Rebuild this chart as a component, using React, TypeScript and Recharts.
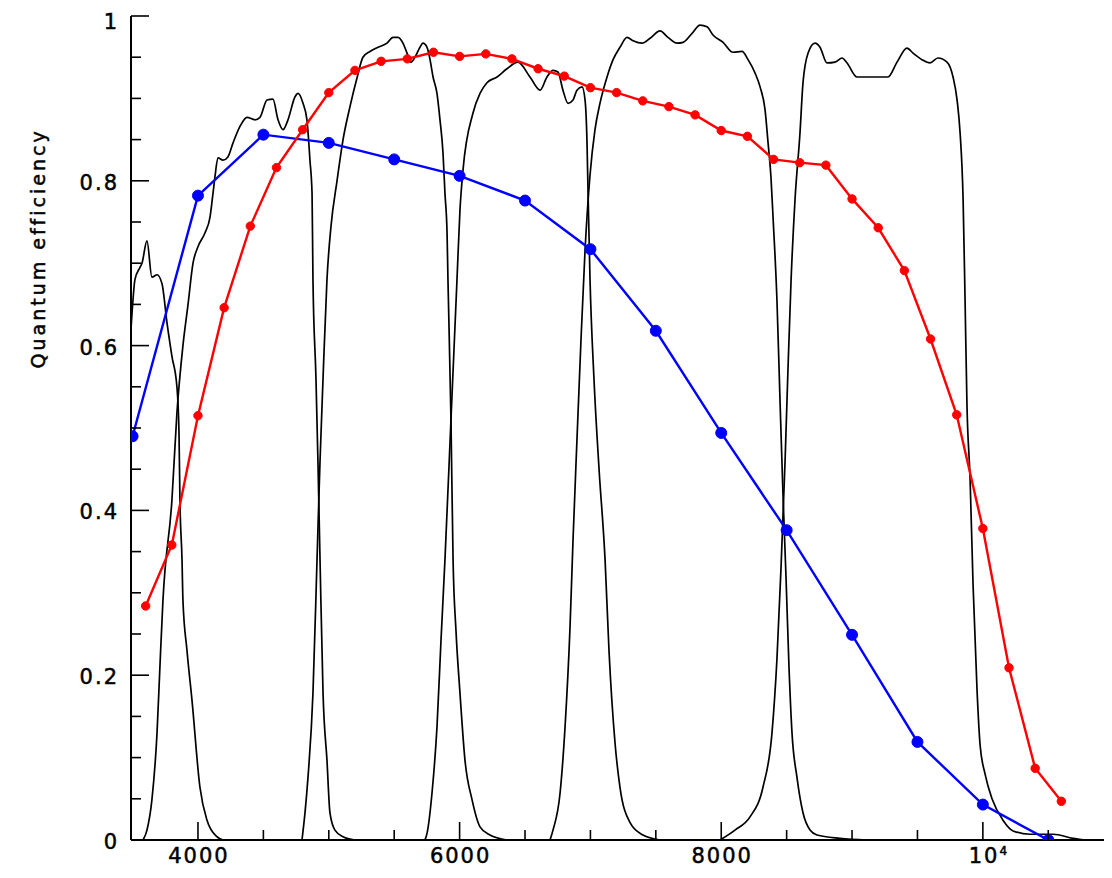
import { LineChart, Line, XAxis, YAxis } from "recharts";

// CCD quantum efficiency curves
const blueWave = [3500, 4000, 4500, 5000, 5500, 6000, 6500, 7000, 7500, 8000, 8500, 9000, 9500, 10000, 10500];
const blueQE = [0.49, 0.782, 0.856, 0.846, 0.826, 0.806, 0.776, 0.717, 0.618, 0.494, 0.376, 0.249, 0.119, 0.043, 0.0];

const redWave = [
  3600, 3800, 4000, 4200, 4400, 4600, 4800, 5000, 5200, 5400, 5600, 5800, 6000, 6200, 6400, 6600, 6800, 7000,
  7200, 7400, 7600, 7800, 8000, 8200, 8400, 8600, 8800, 9000, 9200, 9400, 9600, 9800, 10000, 10200, 10400, 10600,
];
const redQE = [
  0.284, 0.358, 0.515, 0.646, 0.745, 0.816, 0.862, 0.907, 0.934, 0.945, 0.948, 0.956, 0.951, 0.954, 0.948, 0.936,
  0.927, 0.913, 0.907, 0.897, 0.89, 0.88, 0.861, 0.854, 0.826, 0.822, 0.819, 0.778, 0.743, 0.691, 0.608, 0.516,
  0.378, 0.209, 0.087, 0.047,
];

// filter transmission curves: [wavelength, throughput]
const filter1: [number, number][] = [
  [3488, 0.62], [3503, 0.655], [3518, 0.68], [3557, 0.695], [3572, 0.7], [3610, 0.727], [3648, 0.683],
  [3687, 0.686], [3725, 0.675], [3763, 0.628], [3801, 0.587], [3839, 0.55], [3855, 0.494], [3862, 0.413],
  [3878, 0.34], [3885, 0.291], [3916, 0.23], [3954, 0.17], [4015, 0.064], [4069, 0.024], [4145, 0.004], [4191, 0],
];
const filter2: [number, number][] = [
  [3580, 0], [3610, 0.012], [3648, 0.049], [3687, 0.13], [3709, 0.21], [3732, 0.29], [3801, 0.413], [3839, 0.518],
  [3885, 0.6], [3924, 0.65], [3962, 0.7], [4000, 0.72], [4054, 0.737], [4092, 0.756], [4115, 0.785], [4130, 0.805],
  [4153, 0.828], [4191, 0.825], [4229, 0.829], [4268, 0.846], [4321, 0.866], [4375, 0.877], [4436, 0.874],
  [4474, 0.877], [4528, 0.898], [4573, 0.899], [4612, 0.874], [4650, 0.862], [4688, 0.874], [4742, 0.902],
  [4765, 0.906], [4803, 0.894], [4833, 0.874], [4856, 0.825], [4872, 0.785], [4879, 0.68], [4902, 0.56],
  [4917, 0.46], [4933, 0.34], [4956, 0.178], [4986, 0.097], [5009, 0.033], [5047, 0.012], [5109, 0.004], [5200, 0],
];
const filter3: [number, number][] = [
  [4795, 0], [4818, 0.033], [4841, 0.076], [4879, 0.178], [4910, 0.34], [4933, 0.46], [4956, 0.56], [4986, 0.68],
  [5017, 0.745], [5063, 0.8], [5109, 0.85], [5162, 0.89], [5216, 0.925], [5261, 0.95], [5315, 0.957], [5376, 0.962],
  [5445, 0.967], [5491, 0.974], [5529, 0.974], [5567, 0.967], [5598, 0.955], [5628, 0.944], [5659, 0.95],
  [5697, 0.962], [5720, 0.967], [5751, 0.962], [5774, 0.947], [5797, 0.926], [5827, 0.906], [5850, 0.874],
  [5873, 0.834], [5888, 0.785], [5904, 0.737], [5911, 0.68], [5934, 0.51], [5950, 0.34], [5972, 0.255],
  [6003, 0.178], [6041, 0.097], [6095, 0.049], [6156, 0.016], [6232, 0.006], [6362, 0],
];
const filter4: [number, number][] = [
  [5735, 0], [5751, 0.008], [5789, 0.057], [5827, 0.137], [5858, 0.243], [5888, 0.34], [5934, 0.51], [5980, 0.68],
  [6003, 0.765], [6026, 0.813], [6102, 0.882], [6156, 0.906], [6209, 0.919], [6286, 0.926], [6362, 0.936],
  [6446, 0.944], [6538, 0.926], [6615, 0.91], [6668, 0.926], [6714, 0.934], [6752, 0.932], [6790, 0.91],
  [6829, 0.894], [6867, 0.898], [6897, 0.91], [6936, 0.914], [6959, 0.898], [6974, 0.846], [6982, 0.785],
  [6997, 0.68], [7027, 0.56], [7066, 0.45], [7112, 0.34], [7142, 0.23], [7188, 0.118], [7226, 0.064],
  [7303, 0.021], [7402, 0.006], [7532, 0],
];
const filter5: [number, number][] = [
  [6691, 0], [6714, 0.012], [6768, 0.057], [6806, 0.137], [6844, 0.258], [6867, 0.364], [6897, 0.485],
  [6928, 0.607], [6959, 0.716], [6997, 0.807], [7035, 0.862], [7073, 0.894], [7127, 0.926], [7173, 0.947],
  [7226, 0.962], [7280, 0.974], [7326, 0.97], [7394, 0.967], [7456, 0.973], [7532, 0.982], [7593, 0.974],
  [7662, 0.967], [7708, 0.968], [7777, 0.979], [7838, 0.989], [7891, 0.987], [7937, 0.977], [8014, 0.968],
  [8090, 0.956], [8159, 0.957], [8205, 0.947], [8258, 0.931], [8297, 0.914], [8335, 0.886], [8358, 0.846],
  [8380, 0.805], [8396, 0.756], [8426, 0.655], [8450, 0.53], [8472, 0.42], [8495, 0.32], [8518, 0.21],
  [8541, 0.13], [8579, 0.076], [8625, 0.033], [8679, 0.012], [8732, 0.006], [8908, 0.002], [9115, 0],
];
const filter6: [number, number][] = [
  [7991, 0], [8105, 0.012], [8220, 0.028], [8319, 0.064], [8388, 0.13], [8426, 0.22], [8457, 0.33], [8488, 0.46],
  [8510, 0.57], [8534, 0.68], [8564, 0.777], [8602, 0.858], [8625, 0.919], [8664, 0.955], [8717, 0.967],
  [8755, 0.962], [8809, 0.943], [8870, 0.944], [8924, 0.949], [8962, 0.943], [9038, 0.926], [9161, 0.926],
  [9275, 0.926], [9344, 0.944], [9420, 0.961], [9466, 0.955], [9535, 0.947], [9596, 0.943], [9657, 0.949],
  [9726, 0.944], [9772, 0.926], [9803, 0.898], [9826, 0.858], [9849, 0.777], [9864, 0.655], [9879, 0.525],
  [9902, 0.44], [9925, 0.31], [9956, 0.18], [9979, 0.115], [10017, 0.08], [10070, 0.05], [10154, 0.024],
  [10231, 0.011], [10361, 0.007], [10537, 0.007], [10690, 0.002], [10780, 0],
];

const xTicks = [4000, 4500, 5000, 5500, 6000, 6500, 7000, 7500, 8000, 8500, 9000, 9500, 10000, 10500, 11000];
const xLabelled = [4000, 6000, 8000, 10000];
const yTicks = [
  0, 0.05, 0.1, 0.15, 0.2, 0.25, 0.3, 0.35, 0.4, 0.45, 0.5, 0.55, 0.6, 0.65, 0.7, 0.75, 0.8, 0.85, 0.9, 0.95, 1,
];
const yLabels: Record<string, string> = { "0": "0", "0.2": "0.2", "0.4": "0.4", "0.6": "0.6", "0.8": "0.8", "1": "1" };

const xDomain = [3488, 11056];
const font = "'DejaVu Sans', sans-serif";
const MAJOR = 18;
const MINOR = 10;

const toRows = (pts: [number, number][]) => pts.map(([x, v]) => ({ x, v }));
const filters = [filter1, filter2, filter3, filter4, filter5, filter6].map(toRows);
const blueRows = blueWave.map((x, i) => ({ x, v: blueQE[i] }));
const redRows = redWave.map((x, i) => ({ x, v: redQE[i] }));

const labelStyle = {
  fontFamily: font,
  fontSize: 21,
  letterSpacing: 2,
  fill: "#000",
  stroke: "#000",
  strokeWidth: 0.5,
};

const BottomTick = (props: any) => {
  const { x, y, payload } = props;
  const v = payload.value;
  const major = xLabelled.includes(v);
  return (
    <g>
      <line x1={x} y1={y} x2={x} y2={y - (major ? MAJOR : MINOR)} stroke="#000" strokeWidth={1.6} />
      {major &&
        (v === 10000 ? (
          <text x={x + 5} y={y + 23} textAnchor="middle" {...labelStyle}>
            10<tspan dy={-8} fontSize={12} letterSpacing={0}>4</tspan>
          </text>
        ) : (
          <text x={x + 1} y={y + 23} textAnchor="middle" {...labelStyle}>
            {v}
          </text>
        ))}
    </g>
  );
};

const TopTick = (props: any) => {
  const { x, y, payload } = props;
  const major = xLabelled.includes(payload.value);
  return <line x1={x} y1={y} x2={x} y2={y + (major ? MAJOR : MINOR)} stroke="#000" strokeWidth={1.6} />;
};

const LeftTick = (props: any) => {
  const { x, y, payload } = props;
  const label = yLabels[String(payload.value)];
  // the top label sits a little lower so it stays inside the page
  const dy = payload.value === 1 ? 13 : 9;
  return (
    <g>
      <line x1={x} y1={y} x2={x + (label ? MAJOR : MINOR)} y2={y} stroke="#000" strokeWidth={1.6} />
      {label && (
        <text x={x - 12} y={y + dy} textAnchor="end" {...labelStyle}>
          {label}
        </text>
      )}
    </g>
  );
};

const RightTick = (props: any) => {
  const { x, y, payload } = props;
  const major = !!yLabels[String(payload.value)];
  return <line x1={x} y1={y} x2={x - (major ? MAJOR : MINOR)} y2={y} stroke="#000" strokeWidth={1.6} />;
};

const YTitle = (props: any) => {
  const vb = props.viewBox || { x: 0, y: 8, width: 123, height: 824 };
  const cx = vb.x + 30;
  const cy = vb.y + vb.height * 0.282;
  return (
    <text
      x={cx}
      y={cy}
      transform={`rotate(-90 ${cx} ${cy})`}
      textAnchor="middle"
      dominantBaseline="central"
      fontFamily={font}
      fontSize={19}
      letterSpacing={3}
      fill="#000"
      stroke="#000"
      strokeWidth={0.5}
    >
      Quantum efficiency
    </text>
  );
};

export default function App() {
  return (
    <div style={{ width: 1104, height: 862, overflow: "hidden", background: "#fff" }}>
      <LineChart width={1114} height={862} margin={{ top: 8, right: 1, bottom: 0, left: 0 }}>
        <XAxis
          xAxisId="bottom"
          dataKey="x"
          type="number"
          domain={xDomain}
          allowDataOverflow
          ticks={xTicks}
          interval={0}
          height={30}
          tickSize={0}
          tickMargin={0}
          tickLine={false}
          axisLine={{ stroke: "#000", strokeWidth: 2 }}
          tick={(p: any) => <BottomTick {...p} />}
        />
        <XAxis
          xAxisId="top"
          orientation="top"
          dataKey="x"
          type="number"
          domain={xDomain}
          allowDataOverflow
          ticks={xTicks}
          interval={0}
          height={0}
          tickSize={0}
          tickMargin={0}
          tickLine={false}
          axisLine={{ stroke: "#000", strokeWidth: 2 }}
          tick={(p: any) => <TopTick {...p} />}
        />
        <YAxis
          yAxisId="left"
          type="number"
          domain={[0, 1]}
          allowDataOverflow
          ticks={yTicks}
          interval={0}
          width={123}
          tickSize={0}
          tickMargin={0}
          tickLine={false}
          axisLine={{ stroke: "#000", strokeWidth: 2 }}
          tick={(p: any) => <LeftTick {...p} />}
          label={(p: any) => <YTitle {...p} />}
        />
        <YAxis
          yAxisId="right"
          orientation="right"
          type="number"
          domain={[0, 1]}
          allowDataOverflow
          ticks={yTicks}
          interval={0}
          width={0}
          tickSize={0}
          tickMargin={0}
          tickLine={false}
          axisLine={{ stroke: "#000", strokeWidth: 2 }}
          tick={(p: any) => <RightTick {...p} />}
        />
        {filters.map((rows, i) => (
          <Line
            key={i}
            xAxisId="bottom"
            yAxisId="left"
            data={rows}
            dataKey="v"
            type="monotone"
            stroke="#000"
            strokeWidth={1.7}
            dot={false}
            activeDot={false}
            isAnimationActive={false}
          />
        ))}
        <Line
          xAxisId="bottom"
          yAxisId="left"
          data={blueRows}
          dataKey="v"
          type="linear"
          stroke="#0000ff"
          strokeWidth={2.4}
          dot={{ r: 5.5, fill: "#0000ff", stroke: "#0000ff", strokeWidth: 1 }}
          activeDot={false}
          isAnimationActive={false}
        />
        <Line
          xAxisId="bottom"
          yAxisId="left"
          data={redRows}
          dataKey="v"
          type="linear"
          stroke="#ff0000"
          strokeWidth={2.4}
          dot={{ r: 4.2, fill: "#ff0000", stroke: "#ff0000", strokeWidth: 1 }}
          activeDot={false}
          isAnimationActive={false}
        />
      </LineChart>
    </div>
  );
}
